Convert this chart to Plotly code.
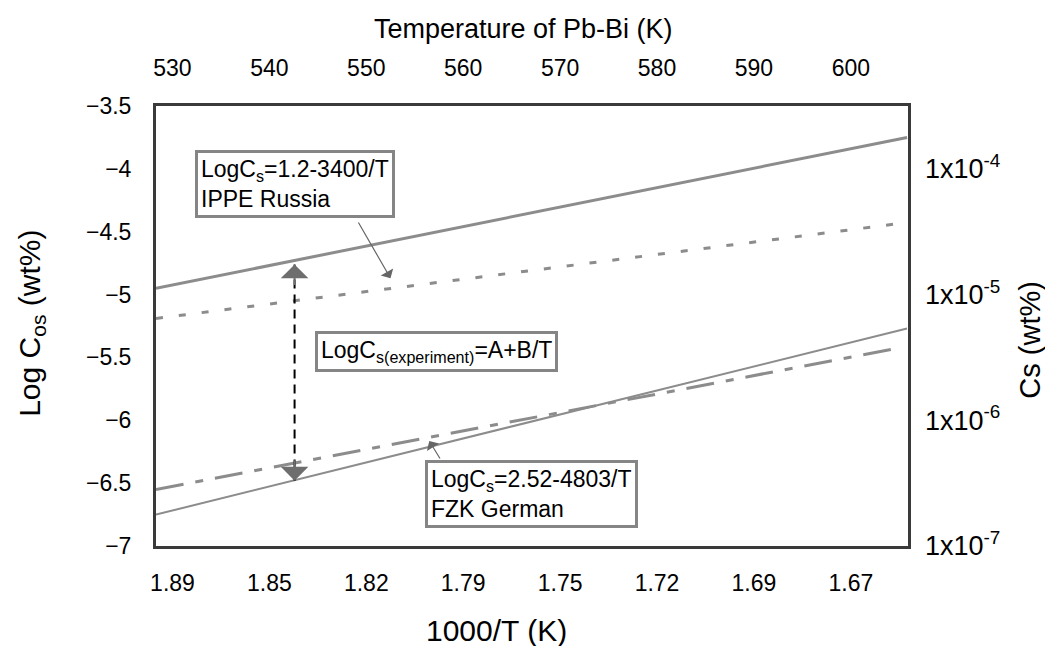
import plotly.graph_objects as go

# ---------------- data ----------------
temp_ticks = [530, 540, 550, 560, 570, 580, 590, 600]
inv_labels = ["1.89", "1.85", "1.82", "1.79", "1.75", "1.72", "1.69", "1.67"]
temp_labels = ["530", "540", "550", "560", "570", "580", "590", "600"]
log_ticks = [-3.5, -4, -4.5, -5, -5.5, -6, -6.5, -7]
log_labels = ["\u22123.5", "\u22124", "\u22124.5", "\u22125", "\u22125.5", "\u22126", "\u22126.5", "\u22127"]
cs_ticks = [-4, -5, -6, -7]
cs_labels = ["1x10<sup>-4</sup>", "1x10<sup>-5</sup>", "1x10<sup>-6</sup>", "1x10<sup>-7</sup>"]

upper_T = [528.3, 605.8]
upper_log = [-4.95, -3.75]
ippe_T = [528.3, 605.5]
ippe_log = [-5.19, -4.43]
fzk_T = [528.3, 604.6]
fzk_log = [-6.55, -5.43]
lower_T = [528.3, 605.8]
lower_log = [-6.75, -5.27]

arrow_T = 542.6
arrow_top = -4.76
arrow_bottom = -6.48

x_range = [528.3, 605.9]
y_range = [-7.0, -3.5]

FONT = "Arial, Liberation Sans, sans-serif"
fig = go.Figure()

fig.add_trace(go.Scatter(x=upper_T, y=upper_log, mode="lines",
                         line=dict(color="#8c8c8c", width=3), showlegend=False))
fig.add_trace(go.Scatter(x=ippe_T, y=ippe_log, mode="lines",
                         line=dict(color="#8c8c8c", width=3, dash="7px,16px"), showlegend=False))
fig.add_trace(go.Scatter(x=fzk_T, y=fzk_log, mode="lines",
                         line=dict(color="#8c8c8c", width=3, dash="28px,12px,8px,12px"), showlegend=False))
fig.add_trace(go.Scatter(x=lower_T, y=lower_log, mode="lines",
                         line=dict(color="#8c8c8c", width=2), showlegend=False))
# vertical dashed arrow
fig.add_trace(go.Scatter(x=[arrow_T, arrow_T], y=[arrow_top, arrow_bottom], mode="lines",
                         line=dict(color="black", width=2, dash="9px,6px"), showlegend=False))

# invisible trace to activate top / right axes
fig.add_trace(go.Scatter(x=x_range, y=y_range, xaxis="x2", yaxis="y2", mode="markers",
                         marker=dict(opacity=0), showlegend=False, hoverinfo="skip"))

ann = []
# arrowheads of the vertical arrow
ann.append(dict(x=arrow_T, y=arrow_top, xref="x", yref="y", ax=0, ay=22, text="",
                showarrow=True, arrowhead=1, arrowsize=2.3, arrowwidth=2, arrowcolor="#6e6e6e"))
ann.append(dict(x=arrow_T, y=arrow_bottom, xref="x", yref="y", ax=0, ay=-22, text="",
                showarrow=True, arrowhead=1, arrowsize=2.3, arrowwidth=2, arrowcolor="#6e6e6e"))
# label arrows
ann.append(dict(x=552.5, y=-4.87, xref="x", yref="y", ax=549.1, ay=-4.415, axref="x", ayref="y",
                text="", showarrow=True, arrowhead=1, arrowsize=2.0, arrowwidth=1.2, arrowcolor="#666"))
ann.append(dict(x=556.5, y=-6.165, xref="x", yref="y", ax=557.7, ay=-6.316, axref="x", ayref="y",
                text="", showarrow=True, arrowhead=1, arrowsize=2.0, arrowwidth=1.2, arrowcolor="#666"))

box = dict(xref="paper", yref="paper", showarrow=False, align="left", xanchor="left", yanchor="top",
           bgcolor="white", bordercolor="#858585", borderwidth=3, borderpad=3,
           font=dict(family=FONT, size=23, color="black"))
ann.append(dict(box, x=0.052, y=0.90,
                text="LogC<sub>s</sub>=1.2-3400/T<br>IPPE Russia"))
ann.append(dict(box, x=0.211, y=0.489,
                text="LogC<sub>s(experiment)</sub>=A+B/T"))
ann.append(dict(box, x=0.358, y=0.195,
                text="LogC<sub>s</sub>=2.52-4803/T<br>FZK German"))

# axis titles
ann.append(dict(x=0.489, y=1.176, xref="paper", yref="paper", showarrow=False,
                text="Temperature of Pb-Bi (K)", font=dict(family=FONT, size=27, color="black"),
                xanchor="center", yanchor="middle"))
ann.append(dict(x=0.453, y=-0.191, xref="paper", yref="paper", showarrow=False,
                text="1000/T (K)", font=dict(family=FONT, size=30, color="black"),
                xanchor="center", yanchor="middle"))
ann.append(dict(x=-0.165, y=0.507, xref="paper", yref="paper", showarrow=False, textangle=-90,
                text="Log C<sub>os</sub> (wt%)", font=dict(family=FONT, size=30, color="black"),
                xanchor="center", yanchor="middle"))
ann.append(dict(x=1.163, y=0.468, xref="paper", yref="paper", showarrow=False, textangle=-90,
                text="Cs (wt%)", font=dict(family=FONT, size=29, color="black"),
                xanchor="center", yanchor="middle"))

tickfont = dict(family=FONT, size=23, color="black")
fig.update_layout(
    width=1053, height=646,
    margin=dict(l=148, r=153, t=98, b=108),
    paper_bgcolor="white", plot_bgcolor="white",
    showlegend=False,
    annotations=ann,
    xaxis=dict(range=x_range, tickvals=temp_ticks, ticktext=inv_labels, ticks="",
               showgrid=False, zeroline=False, showline=True, linecolor="#3a3a3a", linewidth=3,
               mirror=True, tickfont=tickfont, ticklabelstandoff=14),
    xaxis2=dict(range=x_range, overlaying="x", side="top", tickvals=temp_ticks, ticktext=temp_labels,
                ticks="", showgrid=False, zeroline=False, showline=False, tickfont=tickfont,
                ticklabelstandoff=24),
    yaxis=dict(range=y_range, tickvals=log_ticks, ticktext=log_labels, ticks="",
               showgrid=False, zeroline=False, showline=True, linecolor="#3a3a3a", linewidth=3,
               mirror=True, tickfont=tickfont, ticklabelstandoff=17),
    yaxis2=dict(range=y_range, overlaying="y", side="right", tickvals=cs_ticks, ticktext=cs_labels,
                ticks="", showgrid=False, zeroline=False, showline=False,
                tickfont=dict(family=FONT, size=27, color="black"), ticklabelstandoff=16),
)

fig.write_html("out.html")
